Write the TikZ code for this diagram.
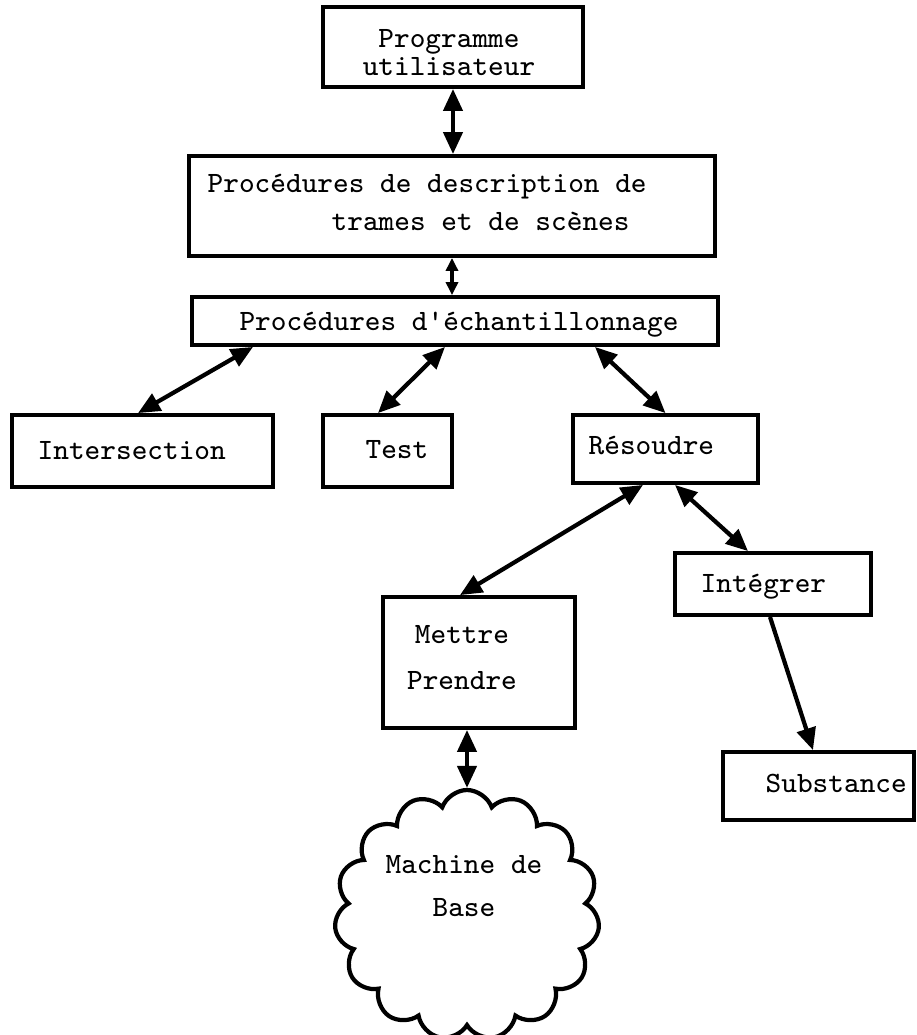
\documentclass[tikz,border=0pt]{standalone}
\usepackage{fontspec}
\usetikzlibrary{arrows.meta,shapes.symbols}

\begin{document}
\begin{tikzpicture}[
    % Styles
    box/.style={draw, line width=1.1pt, inner sep=0pt},
    boxtext/.style={font=\fontsize{8.4}{10}\selectfont\ttfamily, inner sep=0pt},
    link/.style={{Triangle[length=0.22cm, width=0.19cm]}-{Triangle[length=0.22cm, width=0.19cm]}, line width=1.2pt},
    smalllink/.style={{Triangle[length=0.13cm, width=0.12cm]}-{Triangle[length=0.13cm, width=0.12cm]}, line width=1.2pt},
    onelink/.style={-{Triangle[length=0.22cm, width=0.19cm]}, line width=1.2pt}
]
\useasboundingbox (0,0) rectangle (9.17,-10.35);

% --- Top of the hierarchy ---
\node[box, minimum width=2.60cm, minimum height=0.80cm] (prog) at (4.53,-0.47) {};
\node[boxtext, align=center] (tprog) at (4.49,-0.525) {Programme\\[-1.8pt]utilisateur};

\node[box, minimum width=5.26cm, minimum height=1.00cm] (desc) at (4.52,-2.06) {};
\node[boxtext, align=left, anchor=west] (tdesc) at (2.07,-2.025) {Procédures de description de\\[1pt]\hspace*{4.2em}trames et de scènes};

\node[box, minimum width=5.26cm, minimum height=0.48cm] (samp) at (4.55,-3.21) {};
\node[boxtext] (tsamp) at (4.59,-3.25) {Procédures d'échantillonnage};

% --- Second level ---
\node[box, minimum width=2.61cm, minimum height=0.72cm] (inter) at (1.425,-4.51) {};
\node[boxtext, anchor=west] (tinter) at (0.37,-4.51) {Intersection};

\node[box, minimum width=1.29cm, minimum height=0.72cm] (test) at (3.875,-4.51) {};
\node[boxtext] (ttest) at (3.97,-4.50) {Test};

\node[box, minimum width=1.85cm, minimum height=0.68cm] (reso) at (6.655,-4.49) {};
\node[boxtext, anchor=west] (treso) at (5.88,-4.45) {Résoudre};

% --- Third level ---
\node[box, minimum width=1.92cm, minimum height=1.31cm] (mettre) at (4.79,-6.625) {};
\node[boxtext, align=center] (tmettre) at (4.62,-6.575) {Mettre\\[3.3pt]Prendre};

\node[box, minimum width=1.96cm, minimum height=0.62cm] (integ) at (7.73,-5.84) {};
\node[boxtext, anchor=west] (tinteg) at (7.00,-5.87) {Intégrer};

\node[box, minimum width=1.91cm, minimum height=0.68cm] (subst) at (8.185,-7.86) {};
\node[boxtext, anchor=west] (tsubst) at (7.65,-7.83) {Substance};

% --- Base machine ---
\node[cloud, draw, line width=1.2pt, cloud puffs=15, cloud puff arc=140,
    minimum width=2.65cm, minimum height=2.50cm, inner sep=0pt] (base) at (4.67,-9.15) {};
\node[boxtext, align=center] (tbase) at (4.64,-8.86) {Machine de\\[2pt]Base};

% --- Connections ---
\draw[link] (prog.south) -- (prog.south |- desc.north);
\draw[smalllink] (desc.south) -- (desc.south |- samp.north);
\draw[link] ([xshift=-2.02cm]samp.south) -- ([xshift=-0.045cm]inter.north);
\draw[link] ([xshift=-0.10cm]samp.south) -- ([xshift=-0.095cm]test.north);
\draw[link] ([xshift=1.40cm]samp.south) -- (reso.north);
\draw[link] ([xshift=-0.225cm]reso.south) -- ([xshift=-0.19cm]mettre.north);
\draw[link] ([xshift=0.095cm]reso.south) -- ([xshift=-0.25cm]integ.north);
\draw[onelink] ([xshift=-0.03cm]integ.south) -- ([xshift=-0.055cm]subst.north);
\draw[link] (mettre.south -| base.north) -- (base.north);

\end{tikzpicture}
\end{document}
